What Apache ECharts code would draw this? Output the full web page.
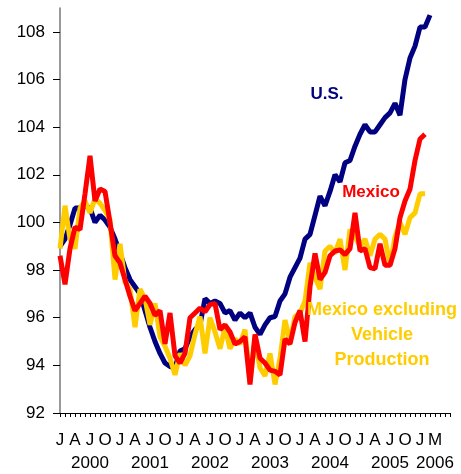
<!DOCTYPE html>
<html>
<head>
<meta charset="utf-8">
<script src="https://cdn.jsdelivr.net/npm/echarts@6/dist/echarts.min.js"></script>
<style>
  html, body { margin: 0; padding: 0; background: #fff; }
  #chart { width: 461px; height: 474px; }
</style>
</head>
<body>
<div id="chart"></div>
<script>
  // monthly index, Jan 2000 onwards
  var monthLetters = ['J', 'F', 'M', 'A', 'M', 'J', 'J', 'A', 'S', 'O', 'N', 'D'];
  var months = [];
  for (var y = 2000; y <= 2006; y++) {
    for (var m = 0; m < 12; m++) {
      if (y === 2006 && m > 6) break;
      months.push(y + '-' + (m + 1));
    }
  }
  var monthLabelIdx = [0, 3, 6, 9, 12, 15, 18, 21, 24, 27, 30, 33, 36, 39, 42, 45,
    48, 51, 54, 57, 60, 63, 66, 69, 72, 75];
  var monthLabelText = { 75: 'M' };
  var yearLabelIdx = { 6: '2000', 18: '2001', 30: '2002', 42: '2003', 54: '2004', 66: '2005', 75: '2006' };
  var yTicks = [92, 94, 96, 98, 100, 102, 104, 106, 108];

  var usIndex = [99.0, 99.3, 99.9, 100.6, 100.6, 100.7, 100.6, 100.0, 100.3, 100.1,
    99.8, 99.3, 98.7, 98.1, 97.6, 97.3, 97.0, 96.3, 95.6, 95.0,
    94.5, 94.1, 93.95, 93.9, 94.6, 94.7, 95.2, 95.5, 95.7, 96.8,
    96.6, 96.7, 96.6, 96.2, 96.3, 95.9, 96.2, 96.0, 96.2, 95.6,
    95.3, 95.7, 96.0, 96.05, 96.7, 97.0, 97.7, 98.1, 98.5, 99.3,
    99.5, 100.3, 101.1, 100.7, 101.3, 102.0, 101.7, 102.5, 102.6, 103.2,
    103.7, 104.1, 103.8, 103.8, 104.1, 104.4, 104.6, 105.0, 104.5, 106.0,
    106.9, 107.4, 108.2, 108.2, 108.7];
  var mexicoIndex = [98.6, 97.4, 98.9, 99.8, 99.7, 101.2, 102.8, 100.9, 101.4, 101.3,
    100.0, 98.6, 98.3, 97.6, 96.9, 96.3, 96.6, 96.9, 96.6, 96.1,
    96.3, 94.9, 96.2, 94.4, 94.1, 94.5, 96.0, 96.2, 96.4, 96.25,
    96.55, 96.6, 95.5, 95.7, 95.4, 94.9, 95.0, 95.2, 93.2, 95.3,
    94.3, 94.1, 93.8, 93.75, 93.6, 95.1, 94.9, 95.8, 96.3, 95.0,
    97.3, 98.7, 97.6, 97.9, 98.6, 98.8, 98.85, 98.65, 98.9, 100.4,
    98.8, 98.9, 98.1, 98.05, 99.1, 98.2, 98.2, 98.9, 100.2, 100.9,
    101.4, 102.6, 103.5, 103.7];
  var mexicoExVehicle = [98.9, 100.7, 99.3, 98.9, 100.6, 100.9, 100.4, 101.0, 100.8, 100.5,
    100.1, 97.6, 99.1, 97.5, 97.2, 95.6, 97.2, 96.8, 95.7, 96.6,
    95.2, 94.8, 94.3, 93.6, 94.5, 94.0, 94.4, 95.3, 96.05, 94.5,
    96.0, 95.4, 94.7, 95.6, 94.7, 95.1, 94.9, 95.5, 93.3, 95.1,
    93.9, 93.55, 94.5, 93.2, 94.3, 95.9, 95.0, 96.05, 96.2, 96.7,
    98.3, 97.7, 97.2, 98.8, 99.0, 98.7, 99.3, 98.0, 99.7, 99.4,
    99.0, 99.3, 98.6, 99.3, 99.5, 99.3, 98.2, 99.4, 100.0, 99.5,
    100.2, 100.4, 101.2, 101.2];

  var font = '"Liberation Sans", Arial, sans-serif';
  var chart = echarts.init(document.getElementById('chart'));
  chart.setOption({
    animation: false,
    grid: { left: 60, right: 11, top: 8, bottom: 61 },
    xAxis: [
      {
        type: 'category',
        data: months,
        boundaryGap: false,
        axisLine: { lineStyle: { color: '#000', width: 1 } },
        axisTick: { interval: 0, length: 4, lineStyle: { color: '#000' } },
        axisLabel: {
          interval: function (idx) { return monthLabelIdx.indexOf(idx) >= 0; },
          formatter: function (v, idx) { return monthLabelText[idx] || monthLetters[idx % 12]; },
          margin: 19,
          color: '#000',
          fontFamily: font,
          fontSize: 17
        },
        splitLine: { show: false }
      },
      {
        type: 'category',
        data: months,
        boundaryGap: false,
        position: 'bottom',
        offset: 0,
        axisLine: { show: false },
        axisTick: { show: false },
        axisLabel: {
          interval: function (idx) { return yearLabelIdx[idx] !== undefined; },
          formatter: function (v, idx) { return yearLabelIdx[idx] || ''; },
          margin: 42,
          color: '#000',
          fontFamily: font,
          fontSize: 17
        },
        splitLine: { show: false }
      }
    ],
    yAxis: {
      type: 'value',
      min: 92,
      max: 109,
      interval: 2,
      axisLine: { show: true, lineStyle: { color: '#777', width: 1.5 } },
      axisTick: { show: true, length: 7, customValues: yTicks, lineStyle: { color: '#000' } },
      axisLabel: { customValues: yTicks, margin: 15, color: '#000', fontFamily: font, fontSize: 17 },
      splitLine: { show: false }
    },
    series: [
      {
        name: 'U.S.', type: 'line', data: usIndex, symbol: 'none',
        lineStyle: { color: '#000080', width: 5 }
      },
      {
        name: 'Mexico excluding Vehicle Production', type: 'line', data: mexicoExVehicle, symbol: 'none',
        lineStyle: { color: '#FFCC00', width: 5 }
      },
      {
        name: 'Mexico', type: 'line', data: mexicoIndex, symbol: 'none',
        lineStyle: { color: '#FF0000', width: 5 }
      }
    ],
    graphic: [
      { type: 'text', x: 327, y: 94, z: 100,
        style: { text: 'U.S.', fill: '#000080', font: 'bold 17px ' + font, align: 'center', verticalAlign: 'middle' } },
      { type: 'text', x: 371, y: 192, z: 100,
        style: { text: 'Mexico', fill: '#FF0000', font: 'bold 17px ' + font, align: 'center', verticalAlign: 'middle' } },
      { type: 'text', x: 382, y: 335, z: 100,
        style: { text: 'Mexico excluding\nVehicle\nProduction', fill: '#FFCC00', font: 'bold 18px ' + font,
          lineHeight: 25, align: 'center', verticalAlign: 'middle' } }
    ]
  });
</script>
</body>
</html>
